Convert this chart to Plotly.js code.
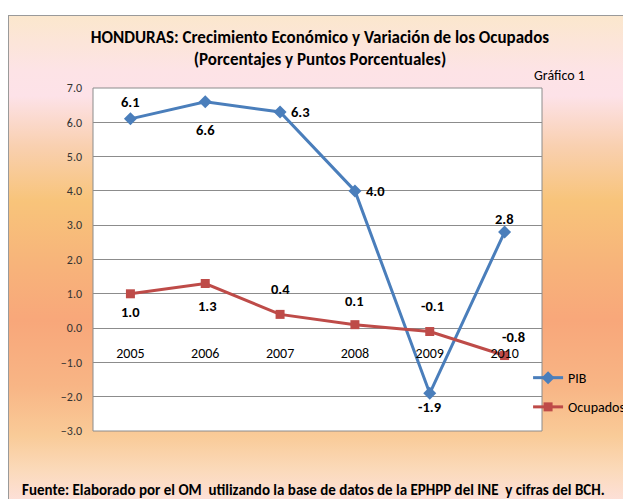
<!DOCTYPE html>
<html>
<head>
<meta charset="utf-8">
<script src="https://cdn.plot.ly/plotly-3.0.1.min.js"></script>
<style>
  html, body { margin: 0; padding: 0; background: #ffffff; }
  #wrap { position: relative; width: 623px; height: 499px; overflow: hidden; }
  #bg {
    position: absolute; left: 8px; top: 15px; width: 640px; height: 500px;
    border-left: 1px solid #9a9a9a; border-top: 1px solid #9a9a9a;
    background: linear-gradient(to bottom,
      #fbe7cd 0px, #fde3e6 55px, #fde2e8 80px, #f9d0b0 130px,
      #f8c47a 185px, #f7b37a 250px, #f8a77a 305px, #f8b585 370px,
      #f9cb98 420px, #fbdabb 455px, #fde0d8 484px);
  }
  #chart { position: absolute; left: 0; top: 0; width: 623px; height: 499px; }
</style>
</head>
<body>
<div id="wrap">
  <div id="bg"></div>
  <div id="chart"></div>
</div>
<script>
const years = ['2005', '2006', '2007', '2008', '2009', '2010'];
const pib = [6.1, 6.6, 6.3, 4.0, -1.9, 2.8];
const ocupados = [1.0, 1.3, 0.4, 0.1, -0.1, -0.8];
const yTicks = [-3, -2, -1, 0, 1, 2, 3, 4, 5, 6, 7];

// label offsets in pixels (style only): [xshift, yshift]
const pibLabelShift = [[0, 17], [0, -28], [20, 0], [21, 0], [0, -14], [0, 13]];
const ocuLabelShift = [[0, -18], [2, -22], [0, 25], [0, 24], [3, 26], [9, 19]];

const FONT = 'Carlito, "Roboto Condensed", "Liberation Sans", sans-serif';

const traces = [
  {
    x: years, y: pib, name: 'PIB', type: 'scatter', mode: 'lines+markers',
    legendgroup: 'a',
    line: { color: '#4a7ebb', width: 3 },
    marker: { symbol: 'diamond', size: 10, color: '#4a7ebb' },
    cliponaxis: false
  },
  {
    x: years, y: ocupados, name: 'Ocupados', type: 'scatter', mode: 'lines+markers',
    legendgroup: 'b',
    line: { color: '#be4b48', width: 3 },
    marker: { symbol: 'square', size: 9, color: '#be4b48' },
    cliponaxis: false
  }
];

// category axis: annotation x is the category index of each year
function labels(xs, ys, shifts) {
  return ys.map((v, i) => ({
    x: xs.indexOf(xs[i]), y: v, xref: 'x', yref: 'y',
    text: '<b>' + v.toFixed(1) + '</b>',
    showarrow: false, xanchor: 'center', yanchor: 'middle',
    xshift: shifts[i][0], yshift: shifts[i][1],
    font: { family: FONT, size: 14.5, color: '#000000' }
  }));
}

const layout = {
  width: 623, height: 499,
  margin: { l: 93, r: 81, t: 88, b: 68, pad: 0, autoexpand: false },
  paper_bgcolor: 'rgba(0,0,0,0)',
  plot_bgcolor: '#ffffff',
  font: { family: FONT, color: '#000000' },
  title: {
    text: '<b>HONDURAS: Crecimiento Económico y Variación de los Ocupados<br>(Porcentajes y Puntos Porcentuales)</b>',
    font: { family: FONT, size: 17, color: '#000000' },
    x: 320 / 623, xanchor: 'center', xref: 'container',
    y: 1 - 43 / 499, yanchor: 'top', yref: 'container'
  },
  xaxis: {
    type: 'category', range: [-0.5, 5.5],
    anchor: 'free', position: 0.3,
    showgrid: false, zeroline: false, showline: false,
    ticks: '', ticklabelstandoff: 15,
    tickfont: { family: FONT, size: 14, color: '#000000' },
    fixedrange: true
  },
  yaxis: {
    range: [-3, 7], tickvals: yTicks, tickformat: '.1f',
    showgrid: true, gridcolor: '#8c8c8c', gridwidth: 1,
    zeroline: false, showline: false, ticks: '',
    ticklabelstandoff: 10,
    tickfont: { family: FONT, size: 12, color: '#333333' },
    fixedrange: true
  },
  legend: {
    x: 0.969, xanchor: 'left', y: 0.201, yanchor: 'top',
    bgcolor: 'rgba(0,0,0,0)', borderwidth: 0,
    font: { family: FONT, size: 14, color: '#000000' },
    traceorder: 'grouped', tracegroupgap: 8,
    itemwidth: 30
  },
  shapes: [
    { type: 'rect', xref: 'paper', yref: 'paper', x0: 0, x1: 1, y0: 0, y1: 1,
      line: { color: '#8c8c8c', width: 1 }, fillcolor: 'rgba(0,0,0,0)', layer: 'above' }
  ],
  annotations: [
    { text: 'Gráfico 1', xref: 'paper', yref: 'paper', x: (532 - 93) / 449, y: (431 - 76) / 343,
      xanchor: 'left', yanchor: 'middle', showarrow: false,
      font: { family: FONT, size: 14, color: '#000000' } },
    { text: '<b>Fuente: Elaborado por el OM  utilizando la base de datos de la EPHPP del INE  y cifras del BCH.</b>',
      xref: 'paper', yref: 'paper', x: (20 - 93) / 449, y: (431 - 490) / 343,
      xanchor: 'left', yanchor: 'middle', showarrow: false,
      font: { family: FONT, size: 15, color: '#000000' } }
  ].concat(labels(years, pib, pibLabelShift), labels(years, ocupados, ocuLabelShift)),
  showlegend: true
};

Plotly.newPlot('chart', traces, layout, { displayModeBar: false, staticPlot: true });
</script>
</body>
</html>
